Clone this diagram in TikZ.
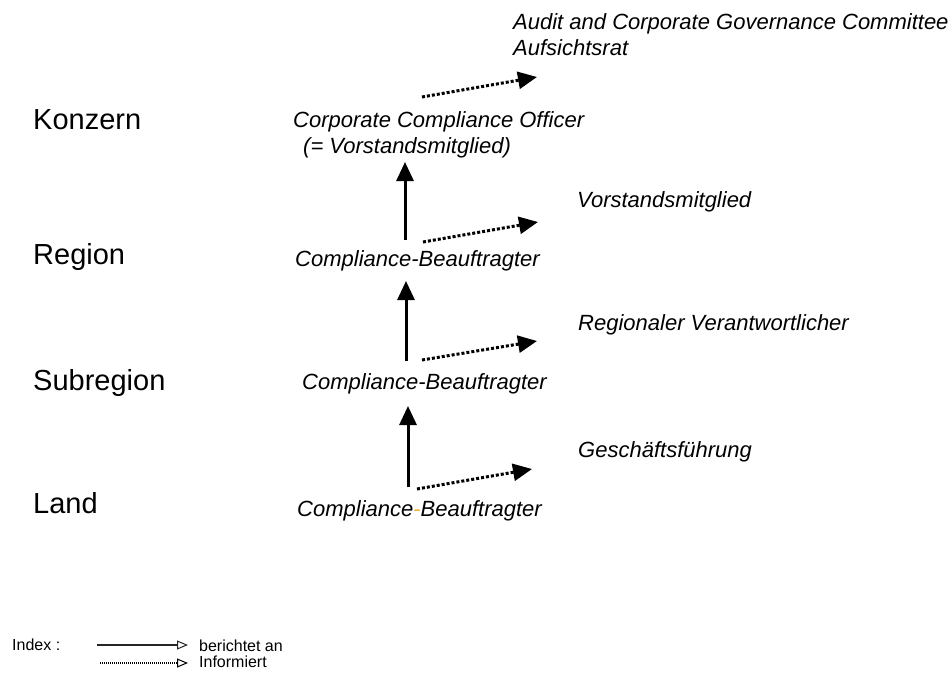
\documentclass[tikz,border=0pt]{standalone}
\usepackage{fontspec}
\setmainfont{Liberation Sans}
\usetikzlibrary{arrows.meta}
\definecolor{hyph}{RGB}{240,180,60}
\tikzset{
  level/.style={anchor=base west, inner sep=0pt, font=\fontsize{29}{34}\selectfont},
  lbl/.style={anchor=base west, inner sep=0pt, font=\fontsize{22}{26}\selectfont\itshape},
  idx/.style={anchor=base west, inner sep=0pt, font=\fontsize{16}{19}\selectfont},
  report/.style={line width=3pt, -{Triangle[width=17pt,length=19pt]}},
  inform/.style={line width=3pt, dash pattern=on 3pt off 2pt, -{Triangle[width=17pt,length=19pt]}},
  lgreport/.style={line width=2pt, draw=black!85, -{Triangle[open,width=9pt,length=11pt,line width=1pt]}},
  lginform/.style={line width=1.6pt, dash pattern=on 1.2pt off 0.8pt, -{Triangle[open,width=9pt,length=11pt,line width=1pt]}}
}
\begin{document}
\begin{tikzpicture}[x=1pt,y=-1pt]
\useasboundingbox (0,0) rectangle (950,673);
% level labels
\node[level] (konzern) at (33,129) {Konzern};
\node[level] (region) at (33,264) {Region};
\node[level] (subregion) at (33,390) {Subregion};
\node[level] (land) at (33,513) {Land};
% labels
\node[lbl] (audit) at (513,29) {Audit and Corporate Governance Committee};
\node[lbl] (aufsicht) at (513,55) {Aufsichtsrat};
\node[lbl] (cco) at (293,127) {Corporate Compliance Officer};
\node[lbl] (ccovs) at (303,153) {(= Vorstandsmitglied)};
\node[lbl] (vorstand) at (577,207) {Vorstandsmitglied};
\node[lbl] (regcb) at (295,266) {Compliance-Beauftragter};
\node[lbl] (regver) at (578,330) {Regionaler Verantwortlicher};
\node[lbl] (subcb) at (302,389) {Compliance-Beauftragter};
\node[lbl] (gf) at (578,457) {Geschäftsführung};
\node[lbl] (landcb) at (297,516) {Compliance\textcolor{hyph}{-}Beauftragter};
% arrow end points
\coordinate (t1s) at (422,97); \coordinate (t1e) at (537,77);
\coordinate (v1s) at (405,240); \coordinate (v1e) at (405,162);
\coordinate (d1s) at (423,242); \coordinate (d1e) at (538,222);
\coordinate (v2s) at (406,361); \coordinate (v2e) at (406,281);
\coordinate (d2s) at (422,360); \coordinate (d2e) at (537,341);
\coordinate (v3s) at (408,487); \coordinate (v3e) at (408,406);
\coordinate (d3s) at (417,489); \coordinate (d3e) at (532,469);
\draw[inform] (t1s) -- (t1e);
\draw[report] (v1s) -- (v1e);
\draw[inform] (d1s) -- (d1e);
\draw[report] (v2s) -- (v2e);
\draw[inform] (d2s) -- (d2e);
\draw[report] (v3s) -- (v3e);
\draw[inform] (d3s) -- (d3e);
% legend
\node[idx] (index) at (12,650) {Index :};
\node[idx] (lgr) at (199,651) {berichtet an};
\node[idx] (lgi) at (199,667) {Informiert};
\coordinate (l1s) at (97,645); \coordinate (l1e) at (188,645);
\coordinate (l2s) at (100,663); \coordinate (l2e) at (188,663);
\draw[lgreport] (l1s) -- (l1e);
\draw[lginform] (l2s) -- (l2e);
\end{tikzpicture}
\end{document}
